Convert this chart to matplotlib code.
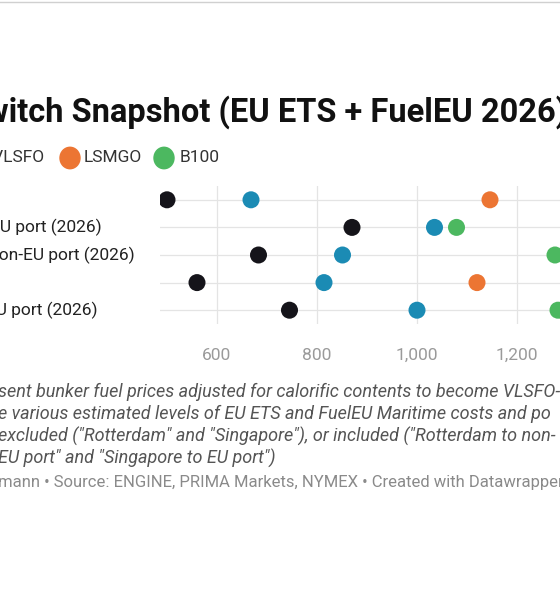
import matplotlib
matplotlib.use("Agg")
import matplotlib.pyplot as plt

categories = ["Rotterdam", "Rotterdam to EU port (2026)", "Rotterdam to non-EU port (2026)",
              "Singapore", "Singapore to EU port (2026)"]
hsfo  = [500, 870, 683, 560, 745]
vlsfo = [668, 1035, 851, 814, 1000]
lsmgo = [1146, None, 1330, 1120, 1290]
b100  = [None, 1079, 1276, 1350, 1282]
xticks = [600, 800, 1000, 1200]

plt.rcParams['font.family'] = ['Roboto', 'DejaVu Sans']
W, H = 560, 600
fig = plt.figure(figsize=(5.6, 6), dpi=100)
fig.patch.set_facecolor('white')

def fx(px): return px / W
def fy(py): return 1 - py / H

x0, x1 = 160, 560
y_top, y_bot = 186, 324
ax = fig.add_axes([fx(x0), fy(y_bot), fx(x1) - fx(x0), (y_bot - y_top) / H])
xmin = 600 - (217 - x0) * 2
xmax = 600 + (x1 - 217) * 2
ax.set_xlim(xmin, xmax)
n = len(categories)
ax.set_ylim(n - 0.5, -0.5)
for s in ax.spines.values():
    s.set_visible(False)
ax.set_yticks([])
ax.set_xticks(xticks)
ax.set_xticklabels([f"{v:,}" for v in xticks], color='#9a9a9a', fontsize=12.5)
ax.tick_params(axis='x', length=0, pad=17)
for v in xticks:
    ax.axvline(v, color='#e4e4e4', lw=0.9, zorder=0)
for i in range(n):
    ax.axhline(i, color='#e4e4e4', lw=0.9, zorder=0)

series = [(hsfo, '#15141a'), (vlsfo, '#1b8bb4'), (lsmgo, '#ec7533'), (b100, '#4cb860')]
for vals, c in series:
    xs = [v for v in vals if v is not None]
    ys = [i for i, v in enumerate(vals) if v is not None]
    ax.scatter(xs, ys, s=150, color=c, zorder=3, clip_on=True, edgecolors='none')

ends = {1: 102, 2: 135, 4: 98}
rowy = [200, 227, 255, 283, 310]
for i, lab in enumerate(categories):
    xe = ends.get(i, -60)
    fig.text(fx(xe), fy(rowy[i]), lab, ha='right', va='center', fontsize=12.5, color='#222222')

fig.text(fx(567), fy(112), "Fuel Switch Snapshot (EU ETS + FuelEU 2026)", ha='right', va='center',
         fontsize=23.5, fontweight='bold', color='#111111')

fig.text(fx(44), fy(158), "HSFO     VLSFO", ha='right', va='center', fontsize=12.5, color='#333333')
for cx, c, lab, tx in [(70, '#ec7533', 'LSMGO', 84), (164, '#4cb860', 'B100', 180)]:
    fig.patches.append(plt.Circle((fx(cx), fy(158)), 10 / W, transform=fig.transFigure,
                                  color=c, figure=fig))
    fig.text(fx(tx), fy(158), lab, ha='left', va='center', fontsize=12.5, color='#333333')

notes = ["sent bunker fuel prices adjusted for calorific contents to become VLSFO-",
         "e various estimated levels of EU ETS and FuelEU Maritime costs and po",
         "excluded (\"Rotterdam\" and \"Singapore\"), or included (\"Rotterdam to non-",
         "EU port\" and \"Singapore to EU port\")"]
for k, t in enumerate(notes):
    fig.text(fx(-2), fy(392 + k * 22.3), t, ha='left', va='center', fontsize=13,
             style='italic', color='#555555')

fig.text(fx(-2), fy(483), "mann \u2022 Source: ENGINE, PRIMA Markets, NYMEX \u2022 Created with Datawrapper",
         ha='left', va='center', fontsize=12, color='#8a8a8a')

fig.add_artist(plt.Line2D([0, 1], [fy(2), fy(2)], transform=fig.transFigure, color='#d0d0d0', lw=1))

fig.savefig("out.png", dpi=100, facecolor='white')
